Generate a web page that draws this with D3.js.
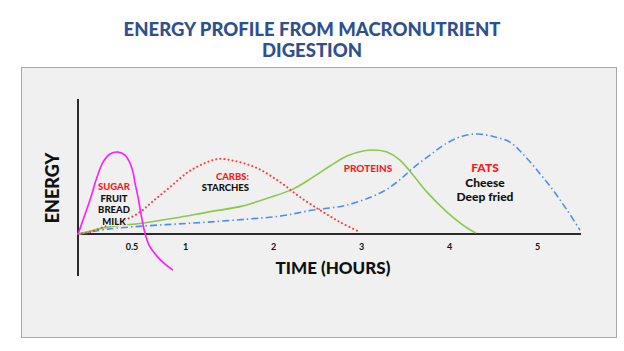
<!DOCTYPE html>
<html>
<head>
<meta charset="utf-8">
<script src="https://cdn.jsdelivr.net/npm/d3@7"></script>
<style>
  body { margin: 0; background: #fff; }
  text { font-family: Lato, "Open Sans", sans-serif; font-weight: 700; }
</style>
</head>
<body>
<div id="wrapper"></div>
<script>
// data: [hours, energy]
const sugar = [[0,0],[0.047,10.4],[0.112,25.2],[0.178,42.2],[0.234,53.3],[0.299,59.3],[0.374,60.7],[0.439,58.5],[0.486,52.6],[0.514,45.9],[0.533,37.8],[0.561,27.4],[0.589,14.8],[0.626,0.7],[0.664,-8.1],[0.738,-16.3],[0.813,-22.2],[0.888,-26.7]];
const carbs = [[0,0],[0.112,1.5],[0.234,5.2],[0.346,8.9],[0.458,11.1],[0.579,16.3],[0.701,24.4],[0.86,34.8],[1.034,45.9],[1.205,51.9],[1.375,55.6],[1.568,54.1],[1.818,48.9],[2.08,38.5],[2.307,27.4],[2.534,17.8],[2.761,8.9],[2.989,1.5]];
const proteins = [[0,0],[0.28,5.2],[0.598,8.1],[0.907,11.9],[1.261,16.3],[1.648,20.7],[1.943,26.7],[2.227,33.3],[2.455,42.2],[2.648,50.4],[2.841,57.8],[3.023,61.5],[3.136,62.2],[3.295,60.7],[3.443,54.8],[3.591,43.7],[3.75,31.1],[3.977,16.3],[4.159,6.7],[4.307,0.7]];
const fats = [[0,0],[0.28,3.7],[0.598,5.9],[0.907,7.4],[1.261,8.9],[1.705,11.1],[2.08,13.3],[2.455,17.8],[2.841,21.5],[3.216,30.4],[3.409,38.5],[3.591,48.9],[3.784,58.5],[3.977,67.4],[4.159,72.6],[4.33,74.1],[4.523,71.9],[4.693,68.1],[4.83,60],[5,47.4],[5.182,32.6],[5.341,17.8],[5.489,3]];
const tickHours = [0.5, 1, 2, 3, 4, 5];
const titleLines = ["ENERGY PROFILE FROM MACRONUTRIENT", "DIGESTION"];

const width = 624, height = 351;

const svg = d3.select("#wrapper").append("svg")
  .attr("width", width)
  .attr("height", height);

// title
svg.selectAll(".title")
  .data(titleLines)
  .enter().append("text")
  .attr("class", "title")
  .attr("x", 312)
  .attr("y", (d, i) => 36 + i * 21)
  .attr("text-anchor", "middle")
  .attr("fill", "#2f4f8f")
  .style("font-size", "18.5px")
  .style("font-weight", 900)
  .text(d => d);

// panel
svg.append("rect")
  .attr("x", 21.5).attr("y", 67.5)
  .attr("width", 595).attr("height", 270)
  .attr("fill", "#f0f0f0")
  .attr("stroke", "#a8a8a8")
  .attr("stroke-width", 1);

// scales (time axis in the picture is stretched before 1 hour)
const x = d3.scaleLinear().domain([0, 1, 5.5]).range([78, 185, 581]);
const y = d3.scaleLinear().domain([-31, 100]).range([276, 99]);

const line = d3.line()
  .x(d => x(d[0]))
  .y(d => y(d[1]))
  .curve(d3.curveCatmullRom.alpha(0.5));

// axes
svg.append("line")
  .attr("x1", x(0)).attr("x2", x(5.5))
  .attr("y1", y(0)).attr("y2", y(0))
  .attr("stroke", "#2a2a2a").attr("stroke-width", 2);
svg.append("line")
  .attr("x1", x(0)).attr("x2", x(0))
  .attr("y1", y(100)).attr("y2", y(-31))
  .attr("stroke", "#2a2a2a").attr("stroke-width", 2);

const xAxis = svg.append("g")
  .attr("transform", `translate(0, ${y(0)})`)
  .call(d3.axisBottom(x).tickValues(tickHours).tickSize(0).tickPadding(10).tickFormat(d3.format("")));
xAxis.select(".domain").remove();
xAxis.selectAll("text")
  .style("font-family", "Lato, sans-serif")
  .style("font-weight", 700)
  .style("font-size", "9px")
  .attr("fill", "#111");

// curves
const series = [
  { data: fats, color: "#4f8ef0", dash: "7 3 1.5 3", cap: "butt" },
  { data: proteins, color: "#8cc84b", dash: null, cap: "butt" },
  { data: carbs, color: "#ff3b3b", dash: "0.1 4", cap: "round" },
  { data: sugar, color: "#ff1aff", dash: null, cap: "butt" }
];
svg.selectAll(".curve")
  .data(series)
  .enter().append("path")
  .attr("class", "curve")
  .attr("d", d => line(d.data))
  .attr("fill", "none")
  .attr("stroke", d => d.color)
  .attr("stroke-width", d => d.cap === "round" ? 2 : 1.6)
  .attr("stroke-linecap", d => d.cap)
  .attr("stroke-dasharray", d => d.dash);

// axis titles
svg.append("text")
  .attr("transform", `translate(59, 188) rotate(-90)`)
  .attr("text-anchor", "middle")
  .attr("fill", "#111")
  .style("font-size", "18px")
  .style("font-weight", 900)
  .text("ENERGY");
svg.append("text")
  .attr("x", 333).attr("y", 274)
  .attr("text-anchor", "middle")
  .attr("fill", "#111")
  .style("font-size", "17px")
  .style("font-weight", 900)
  .text("TIME (HOURS)");

// annotations
function label(lines, xPos, yPos, step, size, anchor) {
  svg.append("g").selectAll("text")
    .data(lines)
    .enter().append("text")
    .attr("x", xPos)
    .attr("y", (d, i) => yPos + i * step)
    .attr("text-anchor", anchor)
    .attr("fill", d => d.red ? "#ff1a1a" : "#111")
    .style("font-size", size + "px")
    .style("font-weight", 900)
    .style("paint-order", "stroke")
    .style("stroke", "#f0f0f0")
    .style("stroke-width", 2)
    .text(d => d.t);
}
label([{ t: "SUGAR", red: true }, { t: "FRUIT" }, { t: "BREAD" }, { t: "MILK" }], 114, 190, 11.5, 9.5, "middle");
label([{ t: "CARBS:", red: true }, { t: "STARCHES" }], 249, 180, 11, 9.5, "end");
label([{ t: "PROTEINS", red: true }], 368, 172, 0, 10, "middle");
label([{ t: "FATS", red: true }, { t: "Cheese" }, { t: "Deep fried" }], 485, 172, 14.5, 12, "middle");
</script>
</body>
</html>
